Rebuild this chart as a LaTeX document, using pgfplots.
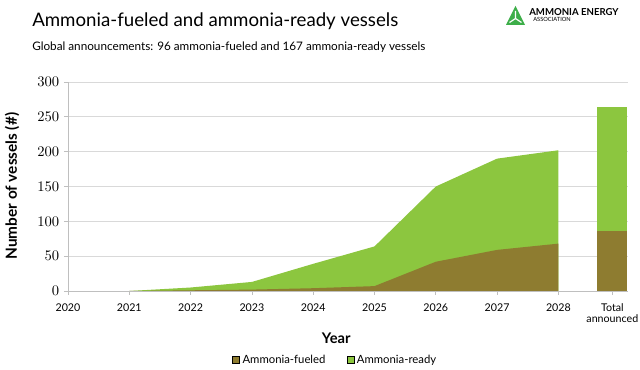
\documentclass[border=0pt]{standalone}
\usepackage{fontspec}
\setmainfont{Lato}
\usepackage{pgfplots}
\pgfplotsset{compat=1.18}
\definecolor{nh3green}{RGB}{140,198,63}
\definecolor{nh3brown}{RGB}{142,124,48}
\definecolor{logogreen}{RGB}{61,174,73}
\definecolor{gridgray}{RGB}{217,217,217}
\definecolor{axgray}{RGB}{191,191,191}
\begin{document}
\begin{tikzpicture}
\path[use as bounding box] (0,0) rectangle (480pt,277.5pt);
\begin{axis}[
  at={(51pt,59.25pt)}, anchor=south west,
  scale only axis, width=420pt, height=156.75pt,
  xmin=0, xmax=9.135, ymin=0, ymax=300,
  axis x line*=bottom, axis y line*=left,
  axis line style={-, draw=axgray, line width=0.6pt},
  xtick={0,1,2,3,4,5,6,7,8,8.88},
  xticklabels={2020,2021,2022,2023,2024,2025,2026,2027,2028,{Total\\[-1pt]announced}},
  xticklabel style={font=\fontsize{8}{9}\selectfont, align=center, yshift=-3pt},
  ytick={0,50,100,150,200,250,300},
  yticklabel style={font=\fontsize{10.5}{12}\selectfont},
  ymajorgrids, grid style={draw=gridgray, line width=0.6pt},
  tick align=outside, major tick length=3pt, tick style={draw=axgray, line width=0.6pt},
  xlabel={Year}, ylabel={Number of vessels (\#)},
  xlabel style={font=\bfseries\fontsize{11}{12}\selectfont, at={(axis description cs:0.479,-0.225)}, anchor=center},
  ylabel style={font=\bfseries\fontsize{11.5}{13}\selectfont, at={(axis description cs:-0.1,0.502)}, anchor=center, rotate=0},
  legend style={at={(axis description cs:0.478,-0.33)}, anchor=center, draw=none, fill=none,
    font=\fontsize{8.5}{10}\selectfont, legend columns=2,
    /tikz/every even column/.append style={column sep=14pt}},
  legend image code/.code={\fill[#1] (0pt,-2.6pt) rectangle (5.2pt,2.6pt);},
]
% total announced per year (top of green area)
\addplot[fill=nh3green, draw=none, forget plot] coordinates {
 (1,0) (2,5) (3,13) (4,39) (5,64) (6,150) (7,190) (8,202)} \closedcycle;
% ammonia-fueled
\addplot[fill=nh3brown, draw=none, forget plot] coordinates {
 (1,0) (2,1) (3,2) (4,4) (5,7) (6,42) (7,59) (8,68)} \closedcycle;
% total announced bar
\addplot[ybar, bar width=0.49, bar shift=0pt, fill=nh3green, draw=none, forget plot] coordinates {(8.88,264)};
\addplot[ybar, bar width=0.49, bar shift=0pt, fill=nh3brown, draw=none, forget plot] coordinates {(8.88,86)};
\addlegendimage{fill=nh3brown}
\addlegendentry{Ammonia-fueled}
\addlegendimage{fill=nh3green}
\addlegendentry{Ammonia-ready}
\end{axis}
\begin{scope}[x=0.75pt,y=-0.75pt,yshift=277.5pt]
\node[anchor=base west, inner sep=0pt, font=\fontsize{14}{16}\selectfont] at (32,27) {Ammonia-fueled and ammonia-ready vessels};
\node[anchor=base west, inner sep=0pt, font=\fontsize{8.8}{11}\selectfont] at (32,51) {Global announcements: 96 ammonia-fueled and 167 ammonia-ready vessels};
% logo
\fill[logogreen] (506,25) -- (525,25) -- (515.5,6) -- cycle;
\draw[white, line width=0.9pt] (515.5,18.5) -- (515.5,11) (515.5,18.5) -- (509.5,22.5) (515.5,18.5) -- (521.5,22.5);
\node[anchor=west, inner sep=0pt, font=\bfseries\fontsize{7.2}{8}\selectfont] at (529,11.8) {AMMONIA ENERGY};
\node[anchor=west, inner sep=0pt, font=\fontsize{4.3}{5}\selectfont] at (533,19) {ASSOCIATION};
\end{scope}
\end{tikzpicture}
\end{document}
